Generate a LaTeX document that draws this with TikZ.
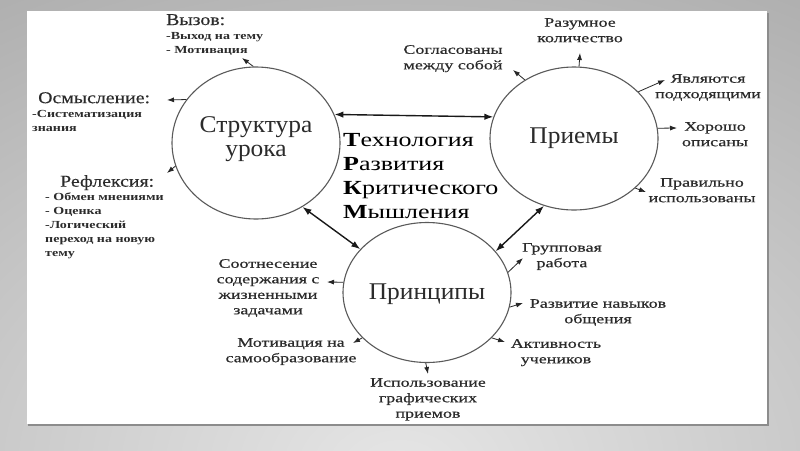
\documentclass[tikz,border=0pt]{standalone}
\usepackage{fontspec}
\setmainfont{Liberation Serif}
\newfontfamily\mainlbl[FakeStretch=1.06]{Liberation Serif}
\newfontfamily\ttlfont[FakeStretch=1.3]{Liberation Serif}
\newfontfamily\headfont[FakeStretch=1.2,FakeBold=0.3]{Liberation Serif}
\newfontfamily\subfont[FakeStretch=1.3]{Liberation Serif}
\newfontfamily\lblfont[FakeStretch=1.38,FakeBold=0.5]{Liberation Serif}
\usetikzlibrary{shapes.geometric,arrows.meta}
\definecolor{txt}{HTML}{2B2B2B}
\definecolor{ringc}{HTML}{5A5A5A}
\tikzset{
  ring/.style={draw=ringc, line width=1.1pt, ellipse, inner sep=0pt, text=txt,
    font={\mainlbl\fontsize{24}{24}\selectfont}, align=center},
  big/.style={{Latex[length=9pt,width=6.5pt]}-{Latex[length=9pt,width=6.5pt]}, line width=1.4pt, draw=black!90},
  sm/.style={-{Latex[length=7pt,width=5pt]}, line width=0.8pt, draw=black!85},
  lbl/.style={inner sep=0pt, text=txt, font={\lblfont\fontsize{13}{15.5}\selectfont}, align=center, anchor=north},
  head/.style={inner sep=0pt, text=txt, font={\headfont\fontsize{16.5}{18}\selectfont}, anchor=north west},
  sub/.style={inner sep=0pt, text=txt, font={\subfont\bfseries\fontsize{10.8}{13.8}\selectfont}, align=left, anchor=north west},
  ttl/.style={inner sep=0pt, text=black, font={\ttlfont\fontsize{20}{24}\selectfont}, align=left, anchor=north west}
}
\begin{document}
\begin{tikzpicture}[x=1pt,y=-1pt]
\useasboundingbox (0,0) rectangle (800,450);
% background
\fill[black!34] (0,0) rectangle (800,450);
\begin{scope}
\clip (0,0) rectangle (800,450);
\shade[inner color=black!10, outer color=black!34] (400,470) ellipse (900 and 620);
\end{scope}
\fill[black!45] (28,12.5) rectangle (768.5,425.5);
\fill[white] (27,11) rectangle (767,424);

% circles
\node[ring, minimum width=168, minimum height=152, text depth=12pt] (struct) at (256,143) {Структура\\урока};
\node[ring, minimum width=168, minimum height=143] (priem) at (574,138.5) {Приемы};
\node[ring, minimum width=168, minimum height=140, text height=20pt] (princ) at (427,292.5) {Принципы};

% title
\node[ttl] (title) at (343,133.5) {\textbf{Т}ехнология\\\textbf{Р}азвития\\\textbf{К}ритического\\\textbf{М}ышления};

% main connectors
\draw[big] (struct.20) -- (priem.165);
\draw[big] (struct.306) -- (princ.147);
\draw[big] (priem.246) -- (princ.31);

% Structure labels
\node[head] (vyzov) at (166,14) {Вызов:};
\node[sub] (vyzovs) at (166,32) {-Выход на тему\\- Мотивация};
\node[head] (osm) at (38,92) {Осмысление:};
\node[sub] (osms) at (32,110.5) {-Систематизация\\знания};
\node[head] (refl) at (60,175) {Рефлексия:};
\node[sub] (refls) at (45,193) {- Обмен мнениями\\- Оценка\\-Логический\\переход на новую\\тему};

\coordinate (tv) at (242,58);
\coordinate (to) at (167,100);
\coordinate (tr) at (167,173);
\draw[sm] (struct.92) -- (tv);
\draw[sm] (struct.148) -- (to);
\draw[sm] (struct.196) -- (tr);

% Priemy labels
\node[lbl] (razum) at (580,18) {Разумное\\количество};
\node[lbl] (soglas) at (453,45) {Согласованы\\между собой};
\node[lbl] (yavl) at (708,74) {Являются\\подходящими};
\node[lbl] (hor) at (715,122) {Хорошо\\описаны};
\node[lbl] (prav) at (702,178) {Правильно\\использованы};

\coordinate (tra) at (580,53);
\coordinate (tso) at (513,70);
\coordinate (tya) at (665,80);
\coordinate (tho) at (677,128);
\coordinate (tpr) at (646,192);
\draw[sm] (priem.86) -- (tra);
\draw[sm] (priem.130) -- (tso);
\draw[sm] (priem.36) -- (tya);
\draw[sm] (priem.7) -- (tho);
\draw[sm] (priem.321) -- (tpr);

% Principy labels
\node[lbl] (grupp) at (562,243) {Групповая\\работа};
\node[lbl] (razv) at (598,299) {Развитие навыков\\общения};
\node[lbl] (aktiv) at (556,339) {Активность\\учеников};
\node[lbl] (ispol) at (428,378) {Использование\\графических\\приемов};
\node[lbl] (sootn) at (268,259) {Соотнесение\\содержания с\\жизненными\\задачами};
\node[lbl] (motiv) at (291,338) {Мотивация на\\самообразование};

\coordinate (tgr) at (523,258);
\coordinate (trz) at (523,303);
\coordinate (tak) at (505,342);
\coordinate (tis) at (428,374);
\coordinate (tmo) at (353,343);
\coordinate (tso2) at (327,282);
\draw[sm] (princ.14) -- (tgr);
\draw[sm] (princ.350) -- (trz);
\draw[sm] (princ.325) -- (tak);
\draw[sm] (princ.269) -- (tis);
\draw[sm] (princ.215) -- (tmo);
\draw[sm] (princ.173) -- (tso2);
\end{tikzpicture}
\end{document}
